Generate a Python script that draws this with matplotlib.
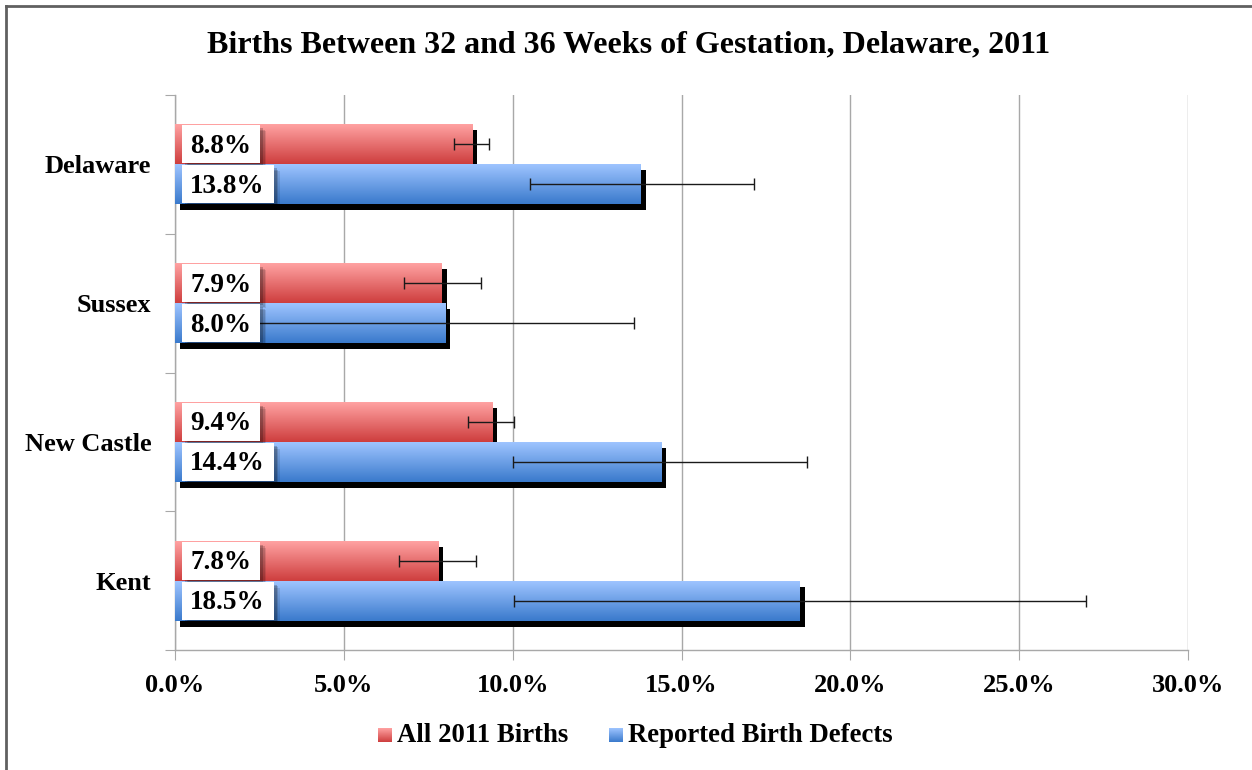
import matplotlib
matplotlib.use("Agg")
import matplotlib.pyplot as plt
import numpy as np
from matplotlib.transforms import ScaledTranslation
from matplotlib.patches import Rectangle
from matplotlib.lines import Line2D

# ---------------- data ----------------
categories = ["Delaware", "Sussex", "New Castle", "Kent"]
all_births = [8.8, 7.9, 9.4, 7.8]
all_births_low = [8.25, 6.78, 8.67, 6.63]
all_births_high = [9.30, 9.05, 10.05, 8.91]
defects = [13.8, 8.0, 14.4, 18.5]
defects_low = [10.51, 2.4, 10.02, 10.05]
defects_high = [17.15, 13.58, 18.73, 26.98]
series_names = ["All 2011 Births", "Reported Birth Defects"]
xticks = [0, 5, 10, 15, 20, 25, 30]
title = "Births Between 32 and 36 Weeks of Gestation, Delaware, 2011"

red_top, red_bot = np.array([255, 162, 162]) / 255, np.array([206, 62, 62]) / 255
blue_top, blue_bot = np.array([158, 196, 255]) / 255, np.array([58, 122, 204]) / 255

FONT = "Liberation Serif"
W, H = 1252, 770
fig = plt.figure(figsize=(W / 100, H / 100), dpi=100)
fig.patch.set_facecolor("white")
ax = fig.add_axes([175 / W, 1 - 650 / H, (1188 - 175) / W, (650 - 95) / H])

y = np.arange(len(categories))
h = 40 / 139
y_red = y - h / 2
y_blue = y + h / 2

shadow_tr = ax.transData + ScaledTranslation(0.05, -0.06, fig.dpi_scale_trans)


def gradient(top, bot, n=64):
    t = np.linspace(0, 1, n)[:, None]
    g = top[None, :] * (1 - t) + bot[None, :] * t
    return g[:, None, :]


for vals, ys, top, bot in [(all_births, y_red, red_top, red_bot),
                           (defects, y_blue, blue_top, blue_bot)]:
    ax.barh(ys, vals, height=h, color="black", transform=shadow_tr, zorder=2)
    for v, yc in zip(vals, ys):
        ax.imshow(gradient(top, bot), extent=(0, v, yc + h / 2, yc - h / 2),
                  aspect="auto", origin="upper", interpolation="bilinear", zorder=3)

# error bars
for vals, lo, hi, ys in [(all_births, all_births_low, all_births_high, y_red),
                         (defects, defects_low, defects_high, y_blue)]:
    vals = np.array(vals)
    xerr = [vals - np.array(lo), np.array(hi) - vals]
    ax.errorbar(vals, ys, xerr=xerr, fmt="none", ecolor="#1a1a1a", elinewidth=1.0,
                capsize=4, capthick=1.0, zorder=4)

ax.set_xlim(0, 30)
ax.set_ylim(3.5, -0.5)

# grid / axes
ax.set_xticks(xticks)
ax.set_xticklabels([f"{t:.1f}%" for t in xticks], fontfamily=FONT, fontweight="bold", fontsize=19)
ax.xaxis.grid(True, color="#a8a8a8", linewidth=1.0, zorder=0)
ax.set_axisbelow(True)
ax.tick_params(axis="x", length=7, color="#a8a8a8", pad=10)
ax.set_yticks([-0.5, 0.5, 1.5, 2.5, 3.5])
ax.set_yticklabels([])
ax.set_yticks(y, minor=True)
ax.set_yticklabels(categories, minor=True, fontfamily=FONT, fontweight="bold", fontsize=19)
ax.tick_params(axis="y", which="major", length=7, color="#a8a8a8")
ax.tick_params(axis="y", which="minor", length=0, pad=17)
for s in ["top", "right"]:
    ax.spines[s].set_visible(False)
for s in ["left", "bottom"]:
    ax.spines[s].set_color("#a8a8a8")
    ax.spines[s].set_linewidth(1.0)

# value label boxes
fig.canvas.draw()
renderer = fig.canvas.get_renderer()
label_texts = []
for vals, ys in [(all_births, y_red), (defects, y_blue)]:
    for v, yc in zip(vals, ys):
        t = ax.text(0, yc, f"{v:.1f}%", fontfamily=FONT, fontweight="bold", fontsize=19.5,
                    va="center", ha="left", zorder=7,
                    transform=ax.transData + ScaledTranslation(0.15, -0.02, fig.dpi_scale_trans))
        label_texts.append((t, yc))
fig.canvas.draw()
boxes = []
for t, yc in label_texts:
    bb = t.get_window_extent(renderer)
    p0 = ax.transData.transform((0, yc - h / 2))
    p1 = ax.transData.transform((0, yc + h / 2))
    ytop, ybot = max(p0[1], p1[1]) - 1, min(p0[1], p1[1]) + 1
    x0 = bb.x0 - 8
    x1 = bb.x1 + 9
    for off, a in [(6, 0.10), (4.5, 0.15), (3, 0.2)]:
        boxes.append(Rectangle((x0 + off, ybot - off), x1 - x0, ytop - ybot,
                               facecolor="black", alpha=a, edgecolor="none", zorder=5))
    boxes.append(Rectangle((x0, ybot), x1 - x0, ytop - ybot,
                           facecolor="white", edgecolor="none", zorder=6))
for p in boxes:
    p.set_transform(matplotlib.transforms.IdentityTransform())
    p.set_clip_on(False)
    ax.add_artist(p)

# title
fig.text(629 / W, 1 - 45 / H, title, ha="center", va="center", fontfamily=FONT,
         fontweight="bold", fontsize=23)

# legend (manual)
for (sx, tx, name, top, bot) in [(378, 397, series_names[0], red_top, red_bot),
                                  (609, 628, series_names[1], blue_top, blue_bot)]:
    lax = fig.add_axes([sx / W, 1 - 742 / H, 14 / W, 14 / H])
    lax.imshow(gradient(top, bot), aspect="auto", interpolation="bilinear")
    lax.axis("off")
    fig.text(tx / W, 1 - 735 / H, name, ha="left", va="center", fontfamily=FONT,
             fontweight="bold", fontsize=19.3)

# figure border (left + top)
fig.add_artist(Line2D([6 / W, 6 / W], [0, 1 - 6 / H], transform=fig.transFigure,
                      color="#606060", linewidth=2))
fig.add_artist(Line2D([6 / W, 1], [1 - 6 / H, 1 - 6 / H], transform=fig.transFigure,
                      color="#606060", linewidth=2))

fig.savefig("out.png", dpi=100, facecolor="white")
